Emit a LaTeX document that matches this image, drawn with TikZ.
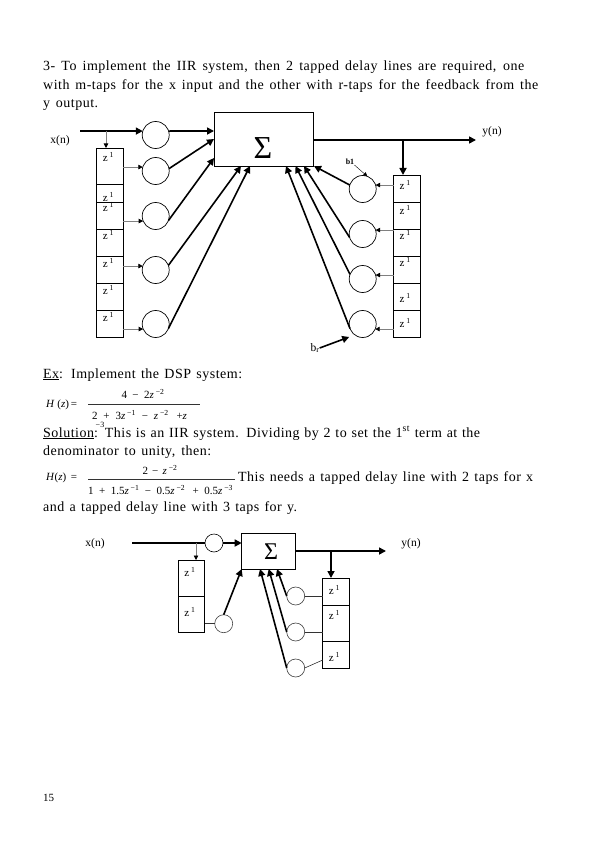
\documentclass[tikz,border=0pt]{standalone}
\usepackage{fontspec}
\setmainfont{Liberation Serif}
\newfontfamily\spreadfont[LetterSpace=3.5]{Liberation Serif}
\usetikzlibrary{positioning, arrows.meta}

\newcommand{\zunit}{z\,\textsuperscript{1}}
\newcommand{\spreadline}[2]{\makebox[#1pt][s]{#2}}

\begin{document}
\begin{tikzpicture}[
x=1pt, y=-1pt,
font=\fontsize{14}{16}\selectfont,
textline/.style={anchor=base west, inner sep=0, font=\fontsize{14}{16}\spreadfont},
eqn/.style={anchor=base, inner sep=0, font=\fontsize{11}{12}\selectfont},
lab/.style={inner sep=0, font=\fontsize{11.5}{12}\selectfont},
cell/.style 2 args={draw, minimum width=26.5pt, minimum height=#1, inner sep=0, outer sep=0, line width=0.7pt,
  label={[anchor=center, inner sep=0, font=\fontsize{11}{12}\selectfont, xshift=-1.5pt, yshift=-#2]north:\zunit}},
tap/.style={circle, draw, minimum size=27pt, inner sep=0, outer sep=0, line width=0.7pt},
smalltap/.style={circle, draw=black!75, minimum size=18pt, inner sep=0, outer sep=0, line width=0.6pt},
sumbox/.style={rectangle, draw, inner sep=0, outer sep=0, line width=0.8pt, align=center},
arrow/.style={-{Triangle[length=7pt, width=7pt]}, line width=1.6pt},
feed/.style={-{Triangle[length=4.5pt, width=4.5pt, black]}, draw=black!50, line width=0.7pt},
plain/.style={draw=black!80, line width=0.6pt},
node distance=0pt
]
\useasboundingbox (0,0) rectangle (595,842);

% --- Texte du haut ---
\node[textline] (linea) at (43,71) {\spreadline{481}{3- To implement the IIR system, then 2 tapped delay lines are required, one}};
\node[textline] (lineb) at (43,89.5) {\spreadline{495}{with m-taps for the x input and the other with r-taps for the feedback from the}};
\node[textline] (linec) at (43,108) {\spreadline{55}{y output.}};

% --- Premier bloc : somme ---
\node[sumbox, minimum width=99.5pt, minimum height=54pt] (sum) at (263.75,139) {};
\node[inner sep=0, font=\fontsize{32}{32}\selectfont] (sigma) at (263,148) {Σ};

% --- Ligne a retard gauche ---
\node[cell={36pt}{9pt}] (zla) at (110,166) {};
\node[cell={18pt}{13pt}, below=of zla] (zlb) {};
\node[cell={27pt}{5pt}, below=of zlb] (zlc) {};
\node[cell={27pt}{6pt}, below=of zlc] (zld) {};
\node[cell={27pt}{7pt}, below=of zld] (zle) {};
\node[cell={27pt}{7pt}, below=of zle] (zlf) {};
\node[cell={27pt}{7pt}, below=of zlf] (zlg) {};

% --- Ligne a retard droite ---
\node[cell={27pt}{10pt}] (zra) at (406.75,188.5) {};
\node[cell={27pt}{8pt}, below=of zra] (zrb) {};
\node[cell={27pt}{6pt}, below=of zrb] (zrc) {};
\node[cell={27pt}{6pt}, below=of zrc] (zrd) {};
\node[cell={27pt}{15pt}, below=of zrd] (zre) {};
\node[cell={27pt}{13pt}, below=of zre] (zrf) {};

% --- Coefficients ---
\node[tap] (tapa) at (155.7,135) {};
\node[tap] (tapb) at (155.7,171) {};
\node[tap] (tapc) at (155.7,216) {};
\node[tap] (tapd) at (155.7,270) {};
\node[tap] (tape) at (155.7,324) {};
\node[tap] (tapr) at (362.7,189) {};
\node[tap] (taps) at (362.7,234) {};
\node[tap] (tapt) at (362.7,279) {};
\node[tap] (tapu) at (362.7,324) {};

% --- Etiquettes ---
\node[lab] (xin) at (60,141) {x(n)};
\node[lab] (yout) at (492,132) {y(n)};
\node[lab, font=\fontsize{8}{8}\bfseries] (blab) at (350,162) {b1};
\node[lab] (brlab) at (315,348) {b\textsubscript{r}};
\coordinate (xstart) at (80,131);
\coordinate (xtap) at (106,131);
\coordinate (yend) at (476,140);
\coordinate (ytap) at (403,140);

% --- Fleches de liaison ---
\draw[arrow] (xstart) -- (tapa.163);
\draw[arrow] (tapa.17) -- ([yshift=-19pt]sum.north west);
\draw[feed] (xtap) -- (xtap |- zla.north);
\draw[arrow] (tapb.10) -- ([yshift=-27pt]sum.north west);
\draw[arrow] (tapc.-20) -- ([yshift=-46pt]sum.north west);
\draw[arrow] (tapd.20) -- ([xshift=27pt]sum.south west);
\draw[arrow] (tape.-20) -- ([xshift=36pt]sum.south west);
\draw[feed] (tapb.163 -| zla.east) -- (tapb.163);
\draw[feed] (tapc.202 -| zlc.east) -- (tapc.202);
\draw[feed] (tapd.163 -| zle.east) -- (tapd.163);
\draw[feed] (tape.202 -| zlg.east) -- (tape.202);
\draw[arrow] ([yshift=-28pt]sum.north east) -- (yend);
\draw[arrow] (ytap) -- (ytap |- zra.north);
\draw[arrow] (tapr.163) -- ([xshift=0.5pt]sum.south east);
\draw[arrow] (taps.195) -- ([xshift=-9.5pt]sum.south east);
\draw[arrow] (tapt.160) -- ([xshift=-18pt]sum.south east);
\draw[arrow] (tapu.200) -- ([xshift=-27.5pt]sum.south east);
\draw[feed] (tapr.17 -| zra.west) -- (tapr.17);
\draw[feed] (taps.17 -| zrb.west) -- (taps.17);
\draw[feed] (tapt.17 -| zrd.west) -- (tapt.17);
\draw[feed] (tapu.-22 -| zrf.west) -- (tapu.-22);
\draw[-{Triangle[length=4pt, width=4pt]}, line width=0.4pt] (blab.south east) -- (tapr.70);
\draw[arrow] (brlab.east) -- ([yshift=-13pt]tapu.west);

% --- Exemple ---
\node[textline] (linex) at (43,378) {\spreadline{199}{\underline{Ex}: Implement the DSP system:}};
\node[eqn, anchor=base west] (hza) at (46,407) {\textit{H} (\textit{z})\,=};
\node[eqn] (numa) at (143,398) {\spreadline{43}{4 − 2\textit{z}\,\textsuperscript{−2}}};
\coordinate (rulea) at (88,404);
\draw[plain] (rulea) -- (200,404);
\node[eqn] (dena) at (139.5,419) {\spreadline{95}{2 + 3\textit{z}\,\textsuperscript{−1} − \textit{z}\,\textsuperscript{−2} \,+\textit{z}}};
\node[eqn, font=\fontsize{8}{8}\selectfont] (expa) at (100,427) {−3};
\node[textline] (linesa) at (43,437) {\spreadline{437}{\underline{Solution}: This is an IIR system. Dividing by 2 to set the 1\textsuperscript{st} term at the}};
\node[textline] (linesb) at (43,455.5) {\spreadline{168}{denominator to unity, then:}};
\node[eqn, anchor=base west] (hzb) at (46,480) {\textit{H}(\textit{z}) \,=};
\node[eqn] (numb) at (160,474) {\spreadline{35}{2 − \textit{z}\,\textsuperscript{−2}}};
\coordinate (ruleb) at (88,479);
\draw[plain] (ruleb) -- (235,479);
\node[eqn] (denb) at (160.5,494) {\spreadline{145}{1 + 1.5\textit{z}\,\textsuperscript{−1} − 0.5\textit{z}\,\textsuperscript{−2} \,+ 0.5\textit{z}\,\textsuperscript{−3}}};
\node[textline] (linesc) at (238,481) {\spreadline{295}{This needs a tapped delay line with 2 taps for x}};
\node[textline] (linesd) at (43,511) {\spreadline{254}{and a tapped delay line with 3 taps for y.}};

% --- Second bloc ---
\node[sumbox, minimum width=54pt, minimum height=36pt] (sumb) at (268.7,551) {};
\node[inner sep=0, font=\fontsize{24}{24}\selectfont] (sigmab) at (271,552) {Σ};
\node[smalltap, draw=black] (tbx) at (214,543) {};
\node[smalltap] (tby) at (223.7,623.7) {};
\node[smalltap] (tbr) at (295.7,596) {};
\node[smalltap] (tbs) at (295.7,632) {};
\node[smalltap] (tbt) at (295.7,668) {};
\node[cell={36pt}{12pt}] (zba) at (191.5,578) {};
\node[cell={36pt}{16pt}, below=of zba] (zbb) {};
\node[cell={27pt}{12pt}] (zbc) at (336,591.5) {};
\node[cell={36pt}{10pt}, below=of zbc] (zbd) {};
\node[cell={27pt}{16pt}, below=of zbd] (zbe) {};
\node[lab] (xinb) at (95,544) {x(n)};
\node[lab] (youtb) at (411,544) {y(n)};
\coordinate (xstartb) at (132,543);
\coordinate (xtapb) at (196,543);
\coordinate (yendb) at (386,551);
\coordinate (ytapb) at (331,551);

% --- Fleches du second bloc ---
\draw[line width=1.6pt] (xstartb) -- (tbx.west);
\draw[arrow] (tbx.east) -- (tbx.east -| sumb.west);
\draw[feed] (xtapb) -- (xtapb |- zba.north);
\draw[arrow] (sumb.east) -- (yendb);
\draw[arrow] (ytapb) -- (ytapb |- zbc.north);
\draw[arrow] (tby.north) -- (sumb.south west);
\draw[plain] (tby.west -| zbb.east) -- (tby.west);
\draw[arrow] (tbr.180) -- ([xshift=-18.7pt]sumb.south east);
\draw[arrow] (tbs.180) -- ([xshift=-27pt]sumb.south east);
\draw[arrow] (tbt.180) -- ([xshift=-35.7pt]sumb.south east);
\draw[plain] (tbr.east) -- (tbr.east -| zbc.west);
\draw[plain] (tbs.east) -- (tbs.east -| zbd.west);
\draw[plain] (tbt.east) -- ([yshift=8pt]tbt.east -| zbe.west);

% --- Numero de page ---
\node[textline, font=\fontsize{11}{12}\selectfont] (pagenum) at (43,801) {15};

\end{tikzpicture}
\end{document}
